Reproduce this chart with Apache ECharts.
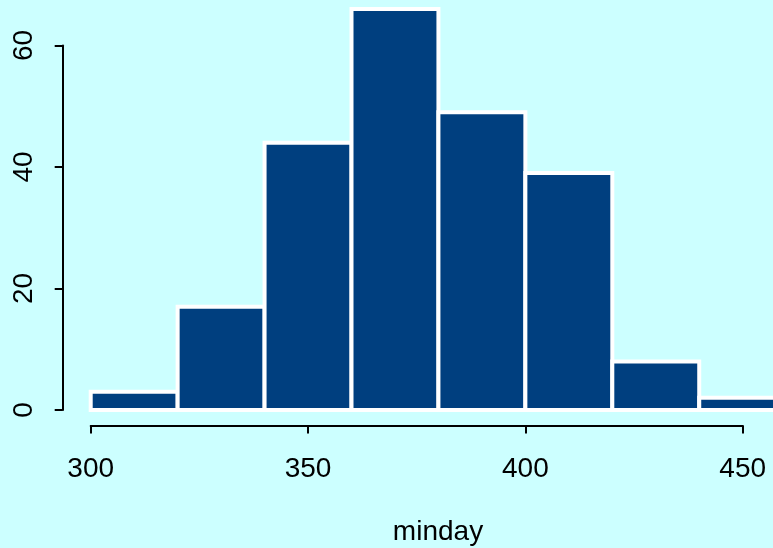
<!DOCTYPE html>
<html>
<head>
<meta charset="utf-8">
<script src="https://cdn.jsdelivr.net/npm/echarts@6/dist/echarts.min.js"></script>
<style>
html,body{margin:0;padding:0;background:#CCFFFF;}
#main{width:773px;height:548px;}
</style>
</head>
<body>
<div id="main"></div>
<script>
var breaks = [300, 320, 340, 360, 380, 400, 420, 440, 460];
var counts = [3, 17, 44, 66, 49, 39, 8, 2];
var xTicks = [300, 350, 400, 450];
var yTicks = [0, 20, 40, 60];
var xLabel = 'minday';

var data = counts.map(function (c, i) { return [breaks[i], breaks[i + 1], c]; });
var FONT = '"Liberation Sans", Arial, Helvetica, sans-serif';

var chart = echarts.init(document.getElementById('main'), null, {renderer: 'canvas'});
chart.setOption({
  backgroundColor: '#CCFFFF',
  animation: false,
  grid: {left: 90.7, right: 30.3, top: 45.5, bottom: 138},
  xAxis: {
    type: 'value', min: xTicks[0], max: xTicks[xTicks.length - 1], interval: 50,
    offset: 15.5,
    axisLine: {show: true, onZero: false, lineStyle: {color: '#000', width: 2}},
    axisTick: {show: true, length: 8, lineStyle: {color: '#000', width: 2}},
    axisLabel: {color: '#000', fontSize: 28, fontFamily: FONT, margin: 30},
    splitLine: {show: false}
  },
  yAxis: {
    type: 'value', min: yTicks[0], max: yTicks[yTicks.length - 1], interval: 20,
    offset: 28,
    axisLine: {show: true, onZero: false, lineStyle: {color: '#000', width: 2}},
    axisTick: {show: true, length: 8, lineStyle: {color: '#000', width: 2}},
    axisLabel: {color: '#000', fontSize: 28, fontFamily: FONT, margin: 24, rotate: 90},
    splitLine: {show: false}
  },
  graphic: [{
    type: 'text', x: 438, y: 532,
    style: {text: xLabel, fill: '#000', font: '28px ' + FONT, textAlign: 'center', textVerticalAlign: 'middle'}
  }],
  series: [{
    type: 'custom',
    clip: false,
    data: data,
    renderItem: function (params, api) {
      var p0 = api.coord([api.value(0), api.value(2)]);
      var p1 = api.coord([api.value(1), 0]);
      return {
        type: 'rect',
        shape: {x: p0[0], y: p0[1], width: p1[0] - p0[0], height: p1[1] - p0[1]},
        style: {fill: '#003F7F', stroke: '#FFFFFF', lineWidth: 4}
      };
    }
  }]
});
</script>
</body>
</html>
